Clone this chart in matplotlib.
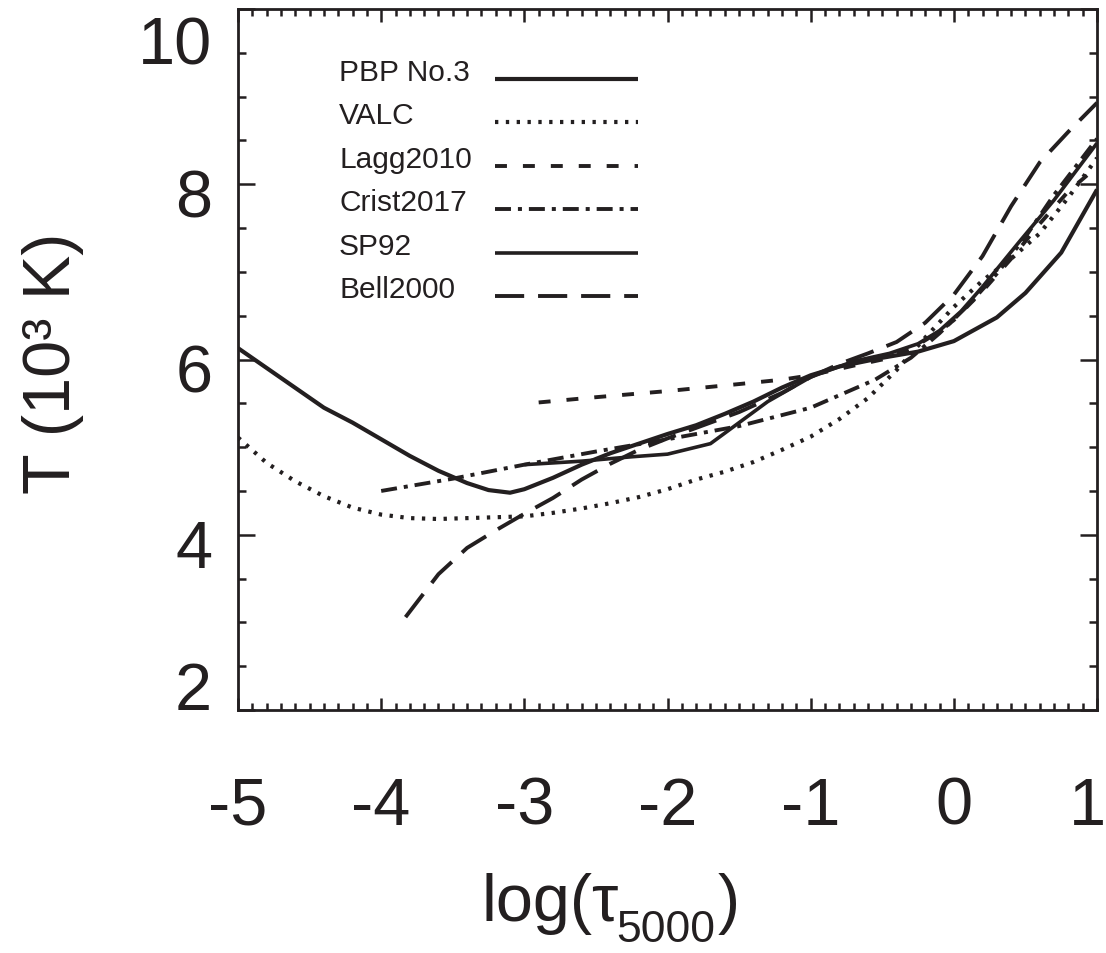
import numpy as np
import matplotlib
matplotlib.use("Agg")
import matplotlib.pyplot as plt
from matplotlib.ticker import MultipleLocator

plt.rcParams['font.family'] = ['Liberation Sans', 'DejaVu Sans']
plt.rcParams['axes.unicode_minus'] = False
plt.rcParams['lines.scale_dashes'] = False

# temperature models, log(tau_5000) vs T in 10^3 K
pbp_x = [-5.0, -4.7, -4.4, -4.2, -4.0, -3.8, -3.6, -3.4, -3.25, -3.1, -3.0, -2.8, -2.6, -2.4,
         -2.2, -2.0, -1.8, -1.6, -1.4, -1.2, -1.0, -0.8, -0.5, -0.25, 0.0, 0.3, 0.5, 0.75, 1.0]
pbp_t = [6.13, 5.79, 5.45, 5.28, 5.09, 4.90, 4.73, 4.59, 4.51, 4.48, 4.52, 4.65, 4.80, 4.93,
         5.04, 5.15, 5.25, 5.38, 5.52, 5.68, 5.82, 5.92, 6.02, 6.09, 6.21, 6.48, 6.76, 7.22, 7.94]

valc_x = [-5.0, -4.8, -4.6, -4.4, -4.2, -4.0, -3.8, -3.6, -3.4, -3.2, -3.0, -2.8, -2.6, -2.4,
          -2.2, -2.0, -1.8, -1.6, -1.4, -1.2, -1.0, -0.8, -0.6, -0.4, -0.2, 0.0, 0.2, 0.4,
          0.6, 0.8, 1.0]
valc_t = [5.11, 4.82, 4.61, 4.44, 4.31, 4.23, 4.19, 4.18, 4.19, 4.20, 4.21, 4.25, 4.30, 4.36,
          4.43, 4.52, 4.63, 4.72, 4.83, 4.97, 5.12, 5.32, 5.56, 5.88, 6.25, 6.60, 6.90, 7.15,
          7.44, 7.85, 8.30]

lagg_x = [-2.9, -2.5, -2.0, -1.5, -1.2, -1.0, -0.7, -0.5, -0.3, -0.1, 0.0, 0.2, 0.4, 0.6, 0.8, 1.0]
lagg_t = [5.51, 5.57, 5.64, 5.72, 5.77, 5.82, 5.93, 6.00, 6.12, 6.32, 6.45, 6.78, 7.15, 7.55, 7.92, 8.20]

crist_x = [-4.0, -3.5, -3.0, -2.5, -2.0, -1.5, -1.0, -0.55, -0.3, -0.1, 0.1, 0.3, 0.5, 0.7, 1.0]
crist_t = [4.50, 4.64, 4.80, 4.95, 5.09, 5.24, 5.45, 5.77, 6.02, 6.30, 6.62, 6.98, 7.40, 7.88, 8.52]

sp92_x = [-3.0, -2.6, -2.25, -2.0, -1.7, -1.55, -1.3, -1.0, -0.7, -0.45, -0.25, -0.1, 0.05,
          0.2, 0.45, 0.7, 1.0]
sp92_t = [4.80, 4.84, 4.89, 4.92, 5.04, 5.22, 5.52, 5.80, 5.98, 6.07, 6.18, 6.33, 6.55,
          6.83, 7.33, 7.82, 8.47]

bell_x = [-3.83, -3.6, -3.4, -3.2, -3.0, -2.8, -2.6, -2.4, -2.2, -2.0, -1.8, -1.5, -1.2, -1.0,
          -0.8, -0.6, -0.4, -0.2, 0.0, 0.2, 0.4, 0.6, 0.8, 1.0]
bell_t = [3.06, 3.55, 3.85, 4.05, 4.24, 4.42, 4.63, 4.81, 4.97, 5.10, 5.22, 5.40, 5.62, 5.80,
          5.95, 6.07, 6.20, 6.42, 6.74, 7.18, 7.75, 8.25, 8.60, 8.93]

model_names = ["PBP No.3", "VALC", "Lagg2010", "Crist2017", "SP92", "Bell2000"]

x_ticks = [-5, -4, -3, -2, -1, 0, 1]
x_tick_labels = ["-5", "-4", "-3", "-2", "-1", "0", "1"]
y_ticks = [2, 4, 6, 8, 10]
y_tick_labels = ["2", "4", "6", "8", "10"]

INK = '#231f20'
W, H = 1106, 954


def line_styles():
    # dash lengths in points (scale_dashes off)
    return [
        dict(ls='-', lw=3.0),
        dict(ls=(0, (2.4, 5.4)), lw=3.0),
        dict(ls=(0, (8.6, 11.5)), lw=2.8),
        dict(ls=(0, (11.5, 5.0, 2.9, 5.0)), lw=2.8),
        dict(ls='-', lw=2.6),
        dict(ls=(0, (21.0, 10.0)), lw=2.8),
    ]
# end def


def make_plot():
    fig = plt.figure(figsize=(W / 100, H / 100), dpi=100)
    ax = fig.add_axes([0.2152, 0.2547, 0.7767, 0.7348])

    curves = [(pbp_x, pbp_t), (valc_x, valc_t), (lagg_x, lagg_t),
              (crist_x, crist_t), (sp92_x, sp92_t), (bell_x, bell_t)]
    styles = line_styles()

    for (xs, ts), st in zip(curves, styles):
        ax.plot(xs, ts, color=INK, solid_capstyle='butt', dash_capstyle='butt', **st)
    # end for

    ax.set_xlim(-5, 1)
    ax.set_ylim(2, 10)

    for sp in ax.spines.values():
        sp.set_linewidth(2.0)
        sp.set_color(INK)
    # end for

    ax.xaxis.set_major_locator(MultipleLocator(1))
    ax.xaxis.set_minor_locator(MultipleLocator(0.1))
    ax.yaxis.set_major_locator(MultipleLocator(2))
    ax.yaxis.set_minor_locator(MultipleLocator(0.5))
    ax.tick_params(which='both', direction='in', top=True, right=True, colors=INK)
    ax.tick_params(axis='y', which='major', length=12, width=1.8)
    ax.tick_params(axis='y', which='minor', length=6, width=1.8)
    ax.tick_params(axis='x', which='major', length=9, width=1.8)
    ax.tick_params(axis='x', which='minor', length=5, width=1.8)
    ax.set_xticks(x_ticks)
    ax.set_yticks(y_ticks)
    ax.set_xticklabels([])
    ax.set_yticklabels([])

    # tick labels placed like the IDL original (end labels pulled inside)
    xtrans = ax.get_xaxis_transform()
    for val, lab in zip(x_ticks, x_tick_labels):
        nudge = -0.065 if val == x_ticks[-1] else 0.0
        ax.text(val + nudge, -0.1626, lab, transform=xtrans, ha='center',
                va='baseline', fontsize=48, color=INK)
    # end for

    y_shift = {2: -0.01, 4: 0.365, 6: 0.365, 8: 0.365, 10: 0.62}
    ytrans = ax.get_yaxis_transform()
    for val, lab in zip(y_ticks, y_tick_labels):
        ax.text(-0.030, val - y_shift[val], lab, transform=ytrans, ha='right',
                va='baseline', fontsize=48, color=INK)
    # end for

    # x title with a dropped subscript, built from pieces
    fig.text(482 / W, 1 - 921 / H, 'log(τ', ha='left', va='baseline', fontsize=48, color=INK)
    fig.text(616 / W, 1 - 942 / H, '5000', ha='left', va='baseline', fontsize=32, color=INK)
    fig.text(718 / W, 1 - 921 / H, ')', ha='left', va='baseline', fontsize=48, color=INK)

    fig.text(70 / W, 1 - 363 / H, 'T (10³ K)', rotation=90, rotation_mode='anchor',
             ha='center', va='baseline', fontsize=48, color=INK)

    # legend: names left aligned, keys in a column after them
    leg_y0 = 0.8994
    leg_dy = 0.0621
    for i, (name, st) in enumerate(zip(model_names, styles)):
        yy = leg_y0 - i * leg_dy
        ax.text(0.1176, yy, name, transform=ax.transAxes, ha='left', va='baseline',
                fontsize=21.5, color=INK)
        ax.plot([0.299, 0.4657], [yy + 0.001, yy + 0.001], transform=ax.transAxes,
                color=INK, solid_capstyle='butt', dash_capstyle='butt', **st)
    # end for

    fig.savefig("out.png", dpi=100)
    plt.close(fig)
# end def


if __name__ == "__main__":
    make_plot()
